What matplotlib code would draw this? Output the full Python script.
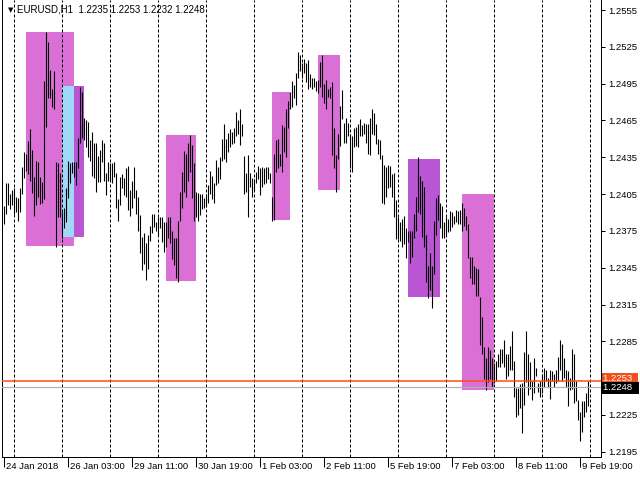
import matplotlib
matplotlib.use('Agg')
import matplotlib.pyplot as plt
import matplotlib.transforms as mtransforms
from matplotlib.patches import Rectangle
import numpy as np
import pandas as pd

# ---------------- data (EURUSD H1) ----------------
highs = [
1.2395, 1.2414, 1.2414, 1.2405, 1.2408, 1.2410, 1.2403, 1.2402, 1.2410, 1.2427,
1.2439, 1.2438, 1.2448, 1.2458, 1.2441, 1.2419, 1.2432, 1.2431, 1.2419, 1.2415,
1.2497, 1.2537, 1.2529, 1.2506, 1.2491, 1.2505, 1.2431, 1.2430, 1.2422, 1.2390,
1.2394, 1.2410, 1.2432, 1.2430, 1.2431, 1.2431, 1.2431, 1.2451, 1.2492, 1.2488,
1.2467, 1.2465, 1.2464, 1.2449, 1.2456, 1.2447, 1.2447, 1.2436, 1.2441, 1.2449,
1.2447, 1.2422, 1.2431, 1.2430, 1.2430, 1.2431, 1.2422, 1.2401, 1.2419, 1.2421,
1.2418, 1.2426, 1.2428, 1.2408, 1.2416, 1.2427, 1.2408, 1.2403, 1.2388, 1.2370,
1.2373, 1.2365, 1.2372, 1.2379, 1.2389, 1.2389, 1.2382, 1.2386, 1.2386, 1.2386,
1.2382, 1.2382, 1.2386, 1.2386, 1.2375, 1.2369, 1.2369, 1.2383, 1.2407, 1.2423,
1.2440, 1.2438, 1.2447, 1.2453, 1.2445, 1.2430, 1.2407, 1.2406, 1.2405, 1.2405,
1.2402, 1.2405, 1.2412, 1.2424, 1.2420, 1.2414, 1.2433, 1.2427, 1.2435, 1.2450,
1.2462, 1.2450, 1.2455, 1.2458, 1.2456, 1.2459, 1.2472, 1.2465, 1.2474, 1.2462,
1.2436, 1.2422, 1.2437, 1.2422, 1.2418, 1.2417, 1.2423, 1.2428, 1.2426, 1.2427,
1.2426, 1.2427, 1.2427, 1.2422, 1.2403, 1.2438, 1.2449, 1.2450, 1.2438, 1.2461,
1.2460, 1.2474, 1.2481, 1.2488, 1.2497, 1.2494, 1.2504, 1.2521, 1.2518, 1.2512,
1.2515, 1.2512, 1.2514, 1.2503, 1.2500, 1.2500, 1.2497, 1.2498, 1.2513, 1.2518,
1.2495, 1.2498, 1.2491, 1.2492, 1.2496, 1.2459, 1.2437, 1.2454, 1.2477, 1.2490,
1.2463, 1.2467, 1.2463, 1.2454, 1.2452, 1.2459, 1.2460, 1.2462, 1.2466, 1.2461,
1.2463, 1.2462, 1.2462, 1.2467, 1.2474, 1.2471, 1.2462, 1.2450, 1.2449, 1.2437,
1.2429, 1.2427, 1.2429, 1.2428, 1.2421, 1.2422, 1.2400, 1.2386, 1.2382, 1.2385,
1.2387, 1.2377, 1.2375, 1.2375, 1.2375, 1.2389, 1.2403, 1.2435, 1.2420, 1.2416,
1.2411, 1.2372, 1.2346, 1.2357, 1.2346, 1.2383, 1.2402, 1.2404, 1.2398, 1.2395,
1.2382, 1.2386, 1.2385, 1.2391, 1.2390, 1.2387, 1.2392, 1.2391, 1.2392, 1.2398,
1.2394, 1.2387, 1.2381, 1.2354, 1.2354, 1.2346, 1.2345, 1.2344, 1.2321, 1.2305,
1.2280, 1.2271, 1.2280, 1.2278, 1.2271, 1.2267, 1.2269, 1.2275, 1.2279, 1.2279,
1.2286, 1.2275, 1.2275, 1.2281, 1.2293, 1.2269, 1.2247, 1.2247, 1.2250, 1.2251,
1.2276, 1.2293, 1.2275, 1.2268, 1.2253, 1.2271, 1.2263, 1.2251, 1.2253, 1.2258,
1.2263, 1.2262, 1.2255, 1.2262, 1.2261, 1.2258, 1.2262, 1.2272, 1.2286, 1.2283,
1.2271, 1.2262, 1.2261, 1.2255, 1.2279, 1.2275, 1.2253, 1.2237, 1.2227, 1.2236,
1.2236, 1.2243, 1.2253]

lows = [
1.2381, 1.2389, 1.2396, 1.2393, 1.2396, 1.2389, 1.2390, 1.2383, 1.2390, 1.2405,
1.2418, 1.2424, 1.2421, 1.2416, 1.2406, 1.2387, 1.2396, 1.2403, 1.2397, 1.2398,
1.2401, 1.2460, 1.2483, 1.2483, 1.2476, 1.2474, 1.2362, 1.2386, 1.2386, 1.2369,
1.2377, 1.2382, 1.2402, 1.2414, 1.2422, 1.2419, 1.2412, 1.2426, 1.2447, 1.2451,
1.2449, 1.2443, 1.2435, 1.2432, 1.2420, 1.2418, 1.2407, 1.2415, 1.2415, 1.2431,
1.2416, 1.2404, 1.2416, 1.2416, 1.2414, 1.2419, 1.2394, 1.2383, 1.2396, 1.2410,
1.2404, 1.2403, 1.2392, 1.2387, 1.2394, 1.2402, 1.2389, 1.2375, 1.2357, 1.2343,
1.2348, 1.2335, 1.2344, 1.2367, 1.2373, 1.2378, 1.2375, 1.2372, 1.2377, 1.2366,
1.2358, 1.2362, 1.2369, 1.2365, 1.2352, 1.2347, 1.2337, 1.2333, 1.2383, 1.2394,
1.2407, 1.2403, 1.2416, 1.2423, 1.2402, 1.2383, 1.2386, 1.2383, 1.2388, 1.2393,
1.2394, 1.2395, 1.2398, 1.2405, 1.2401, 1.2398, 1.2412, 1.2414, 1.2417, 1.2432,
1.2434, 1.2431, 1.2439, 1.2443, 1.2446, 1.2447, 1.2452, 1.2454, 1.2445, 1.2452,
1.2405, 1.2407, 1.2386, 1.2411, 1.2403, 1.2408, 1.2414, 1.2417, 1.2404, 1.2411,
1.2413, 1.2414, 1.2417, 1.2414, 1.2383, 1.2384, 1.2423, 1.2426, 1.2428, 1.2423,
1.2439, 1.2435, 1.2459, 1.2474, 1.2476, 1.2483, 1.2478, 1.2500, 1.2505, 1.2500,
1.2504, 1.2496, 1.2491, 1.2492, 1.2491, 1.2492, 1.2489, 1.2487, 1.2492, 1.2484,
1.2479, 1.2474, 1.2484, 1.2483, 1.2437, 1.2426, 1.2407, 1.2434, 1.2444, 1.2466,
1.2447, 1.2447, 1.2452, 1.2426, 1.2423, 1.2443, 1.2444, 1.2443, 1.2452, 1.2452,
1.2454, 1.2447, 1.2438, 1.2437, 1.2454, 1.2453, 1.2446, 1.2438, 1.2434, 1.2398,
1.2397, 1.2403, 1.2410, 1.2411, 1.2403, 1.2386, 1.2368, 1.2368, 1.2367, 1.2362,
1.2364, 1.2353, 1.2366, 1.2349, 1.2354, 1.2369, 1.2375, 1.2390, 1.2389, 1.2370,
1.2362, 1.2333, 1.2320, 1.2327, 1.2312, 1.2340, 1.2372, 1.2384, 1.2377, 1.2369,
1.2369, 1.2371, 1.2374, 1.2375, 1.2378, 1.2381, 1.2382, 1.2381, 1.2381, 1.2375,
1.2379, 1.2376, 1.2353, 1.2337, 1.2332, 1.2332, 1.2322, 1.2322, 1.2282, 1.2275,
1.2254, 1.2245, 1.2252, 1.2254, 1.2248, 1.2251, 1.2253, 1.2264, 1.2264, 1.2267,
1.2264, 1.2254, 1.2257, 1.2262, 1.2262, 1.2240, 1.2223, 1.2225, 1.2231, 1.2210,
1.2233, 1.2252, 1.2241, 1.2246, 1.2237, 1.2243, 1.2257, 1.2244, 1.2240, 1.2243,
1.2248, 1.2253, 1.2248, 1.2238, 1.2253, 1.2248, 1.2251, 1.2253, 1.2262, 1.2253,
1.2255, 1.2248, 1.2232, 1.2245, 1.2246, 1.2235, 1.2236, 1.2221, 1.2204, 1.2211,
1.2223, 1.2227, 1.2232]

# zones: (first bar, last bar, top price, bottom price, kind)
zones = [
    (11, 35, 1.2537, 1.2363, 'orchid'),
    (29, 35, 1.2493, 1.2370, 'blue'),
    (35, 40, 1.2493, 1.2370, 'purple'),
    (81, 96, 1.2453, 1.2334, 'orchid'),
    (134, 143, 1.2488, 1.2384, 'orchid'),
    (157, 168, 1.2518, 1.2408, 'orchid'),
    (202, 218, 1.2434, 1.2321, 'purple'),
    (229, 245, 1.2405, 1.2245, 'orchid'),
]

ohlc_last = ['1.2235', '1.2253', '1.2232', '1.2248']
ask_price = 1.2253
bid_price = 1.2248
ytick_vals = [1.2195, 1.2225, 1.2285, 1.2315, 1.2345, 1.2375, 1.2405,
              1.2435, 1.2465, 1.2495, 1.2525, 1.2555]

n = len(highs)
times_all = pd.date_range('2018-01-24 19:00', '2018-02-12 00:00', freq='h')
times_all = times_all[times_all.dayofweek < 5]
times = times_all[:n]
grid_idx = [i for i, t in enumerate(times_all[:n + 1]) if t.hour == 0]
label_idx = list(range(0, n, 32))
label_txt = []
for k in label_idx:
    t = times[k]
    if k == 0:
        label_txt.append(f"{t.day} {t:%b %Y}")
    else:
        label_txt.append(f"{t.day} {t:%b %H:%M}")

# ---------------- drawing ----------------
plt.rcParams['font.family'] = ['Liberation Sans', 'DejaVu Sans']
W, H = 640, 480
PX = 72 / 100  # one pixel in points
fig = plt.figure(figsize=(W / 100, H / 100), dpi=100)
fig.patch.set_facecolor('white')
ax = fig.add_axes([2 / W, 23 / H, 599 / W, 457 / H])
ax.set_facecolor('white')

ax.set_xlim(-0.75, 298.75)
ax.set_ylim(1.21907, 1.25632)

colors = {'orchid': '#DA70D6', 'purple': '#BA55D3', 'blue': '#A0D9F8'}
for x0, x1, top, bot, kind in zones:
    ax.add_patch(Rectangle((x0, bot), x1 - x0, top - bot, facecolor=colors[kind],
                           edgecolor='none', zorder=1))

for g in grid_idx:
    ax.axvline(g, color='black', lw=PX, linestyle=(0, (3, 2)), zorder=2, snap=True)

x = np.arange(n)
ax.vlines(x, lows, highs, colors='black', linewidth=PX * 1.1, zorder=3)

ax.axhline(ask_price, color='#FF4A10', lw=PX * 1.5, zorder=4)
ax.axhline(bid_price, color='#B0B0B0', lw=PX * 1.2, zorder=4)

ax.spines['top'].set_visible(False)
for s in ['left', 'right', 'bottom']:
    ax.spines[s].set_linewidth(PX)
    ax.spines[s].set_color('black')

ax.yaxis.tick_right()
ax.set_yticks(ytick_vals)
ax.set_yticklabels([f"{v:.4f}" for v in ytick_vals])
ax.tick_params(axis='y', length=3, width=PX, pad=2, labelsize=6.8, direction='out')

ax.set_xticks(label_idx)
ax.set_xticklabels(label_txt)
ax.tick_params(axis='x', length=7, width=PX, pad=-3.5, labelsize=6.8, direction='out')
offset = mtransforms.ScaledTranslation(2 / 72, 0, fig.dpi_scale_trans)
for lbl in ax.get_xticklabels():
    lbl.set_horizontalalignment('left')
    lbl.set_transform(lbl.get_transform() + offset)

# title
fig.text(8 / W, 1 - 10 / H, '\u25BC', fontsize=5, family='DejaVu Sans', va='center', ha='left')
fig.text(17 / W, 1 - 10 / H, 'EURUSD,H1  ' + ' '.join(ohlc_last), fontsize=7,
         va='center', ha='left')

# price boxes on the right
trans = mtransforms.blended_transform_factory(ax.transAxes, ax.transData)
ax.text(1.003, ask_price + 0.00015, '1.2253  ', transform=trans, ha='left', va='center',
        fontsize=6.8, color='white',
        bbox=dict(boxstyle='square,pad=0.12', fc='#F0501A', ec='none'),
        clip_on=False, zorder=6)
ax.text(1.003, bid_price - 0.0001, '1.2248  ', transform=trans, ha='left', va='center',
        fontsize=6.8, color='white',
        bbox=dict(boxstyle='square,pad=0.18', fc='black', ec='none'),
        clip_on=False, zorder=7)

fig.savefig('out.png', dpi=100)
